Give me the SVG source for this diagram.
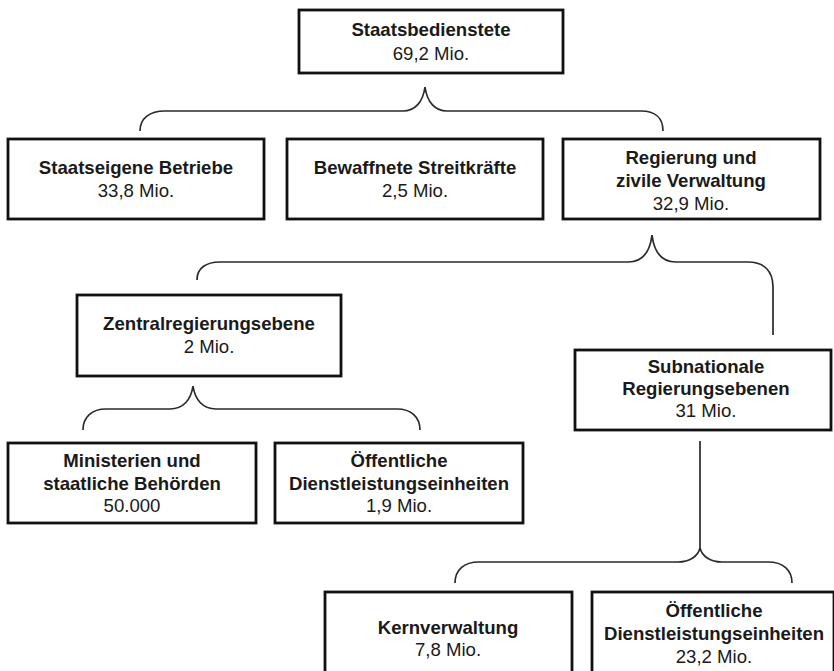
<svg xmlns="http://www.w3.org/2000/svg" width="834" height="671" viewBox="0 0 834 671">
<style>
.box{fill:#fff;stroke:#111;stroke-width:2.8}
.t{font-family:"Liberation Sans",Arial,sans-serif;font-size:18.6px;fill:#1a1a1a;text-anchor:middle}
.b{font-weight:bold}
.br{fill:none;stroke:#2a2a2a;stroke-width:1.7}
</style>
<rect width="834" height="671" fill="#fff"/>
<g id="connectors">
<path class="br" d="M140,131 C140,118 150,111 165,111 H403 C415,111 423,102 425,87 C427,102 435,111 447,111 H641 C655,111 663,118 663,131"/>
<path class="br" d="M197,280 C197,268 206,262 220,262 H628 C642,262 650,252 652,235 C654,252 662,262 676,262 H748 C764,262 773,271 773,287 V335"/>
<path class="br" d="M83,430 C83,417 92,409 106,409 H170 C183,409 191,400 193,386 C195,400 203,409 216,409 H397 C411,409 420,417 420,430"/>
<path class="br" d="M700,441 V550 M455,583 C455,570 464,562 479,562 H678 C690,562 698,556 700,548 C702,556 710,562 722,562 H768 C783,562 792,570 792,583"/>
</g>
<g id="n-staatsbedienstete">
<rect class="box" x="299" y="10" width="264" height="63"/>
<text class="t b" x="431" y="36">Staatsbedienstete</text>
<text class="t" x="431" y="60">69,2 Mio.</text>
</g>
<g id="n-betriebe">
<rect class="box" x="8" y="139" width="256" height="80"/>
<text class="t b" x="136" y="174">Staatseigene Betriebe</text>
<text class="t" x="136" y="197">33,8 Mio.</text>
</g>
<g id="n-streitkraefte">
<rect class="box" x="287" y="139" width="256" height="80"/>
<text class="t b" x="415" y="174">Bewaffnete Streitkräfte</text>
<text class="t" x="415" y="197">2,5 Mio.</text>
</g>
<g id="n-regierung">
<rect class="box" x="563" y="139" width="257" height="80"/>
<text class="t b" x="691" y="164">Regierung und</text>
<text class="t b" x="691" y="187">zivile Verwaltung</text>
<text class="t" x="691" y="210">32,9 Mio.</text>
</g>
<g id="n-zentral">
<rect class="box" x="77" y="295" width="264" height="81"/>
<text class="t b" x="209" y="330">Zentralregierungsebene</text>
<text class="t" x="209" y="353">2 Mio.</text>
</g>
<g id="n-subnational">
<rect class="box" x="575" y="350" width="256" height="80"/>
<text class="t b" x="706" y="373">Subnationale</text>
<text class="t b" x="706" y="395">Regierungsebenen</text>
<text class="t" x="706" y="417">31 Mio.</text>
</g>
<g id="n-ministerien">
<rect class="box" x="8" y="443" width="248" height="80"/>
<text class="t b" x="132" y="467">Ministerien und</text>
<text class="t b" x="132" y="490">staatliche Behörden</text>
<text class="t" x="132" y="512">50.000</text>
</g>
<g id="n-oeff-zentral">
<rect class="box" x="275" y="443" width="248" height="80"/>
<text class="t b" x="399" y="467">Öffentliche</text>
<text class="t b" x="399" y="490">Dienstleistungseinheiten</text>
<text class="t" x="399" y="512">1,9 Mio.</text>
</g>
<g id="n-kern">
<rect class="box" x="325" y="592" width="247" height="100"/>
<text class="t b" x="448" y="634">Kernverwaltung</text>
<text class="t" x="448" y="656">7,8 Mio.</text>
</g>
<g id="n-oeff-sub">
<rect class="box" x="592" y="592" width="242" height="100"/>
<text class="t b" x="714" y="617">Öffentliche</text>
<text class="t b" x="714" y="640">Dienstleistungseinheiten</text>
<text class="t" x="714" y="663">23,2 Mio.</text>
</g>
</svg>
